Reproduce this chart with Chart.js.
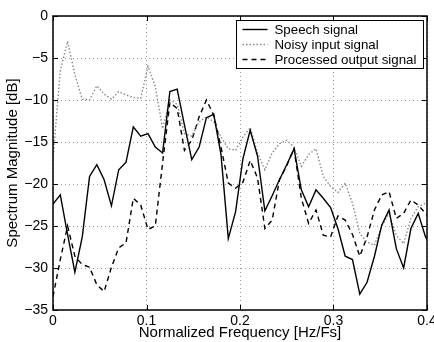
<!DOCTYPE html>
<html lang="en">
<head>
	<meta charset="UTF-8">
	<title>Spectrum</title>
	<script src="https://cdn.jsdelivr.net/npm/chart.js@4.4.0/dist/chart.umd.min.js"></script>
	<style>
		* { box-sizing: border-box; }
		html, body { margin: 0; padding: 0; background: #fff; overflow: hidden; }
		#box { width: 434px; height: 342px; }
	</style>
</head>
<body>
	<div id="box"><canvas id="chart"></canvas></div>

	<script>
		// normalized frequency of each spectrum bin (k/128)
		const freq = [0, 0.0078, 0.0156, 0.0234, 0.0313, 0.0391, 0.0469, 0.0547, 0.0625, 0.0703,
			0.0781, 0.0859, 0.0938, 0.1016, 0.1094, 0.1172, 0.125, 0.1328, 0.1406, 0.1484,
			0.1563, 0.1641, 0.1719, 0.1797, 0.1875, 0.1953, 0.2031, 0.2109, 0.2188, 0.2266,
			0.2344, 0.2422, 0.25, 0.2578, 0.2656, 0.2734, 0.2813, 0.2891, 0.2969, 0.3047,
			0.3125, 0.3203, 0.3281, 0.3359, 0.3438, 0.3516, 0.3594, 0.3672, 0.375, 0.3828,
			0.3906, 0.3984, 0.4063];

		const speech = [-22.4, -21.3, -26.0, -30.5, -26.3, -19.1, -17.7, -19.5, -22.6, -18.3,
			-17.4, -13.2, -14.3, -14.0, -15.6, -16.3, -9.0, -8.7, -13.0, -17.1,
			-15.6, -12.1, -11.7, -16.5, -26.5, -23.3, -17.0, -13.6, -16.7, -23.2,
			-21.4, -19.5, -17.7, -15.8, -20.7, -22.7, -20.7, -21.7, -22.8, -25.3,
			-28.6, -29.0, -33.1, -31.7, -28.6, -24.9, -23.1, -27.7, -30.0, -25.3,
			-23.5, -26.3, -27.5];

		const noisy = [-17.0, -6.5, -3.0, -7.0, -9.9, -10.0, -8.3, -9.3, -9.9, -9.0,
			-9.4, -9.7, -9.8, -6.0, -8.4, -13.4, -10.0, -10.5, -14.0, -14.3,
			-12.6, -12.0, -12.6, -14.4, -15.8, -16.0, -14.4, -13.3, -16.3, -18.3,
			-16.3, -15.2, -14.8, -15.6, -17.9, -16.5, -15.8, -19.1, -20.3, -21.0,
			-19.9, -22.3, -25.9, -26.9, -27.3, -25.0, -23.5, -26.1, -27.1, -24.1,
			-22.7, -22.3, -22.0];

		const processed = [-33.4, -29.0, -25.0, -28.6, -29.6, -29.9, -32.0, -32.8, -29.9, -27.6,
			-27.0, -21.7, -22.5, -25.4, -25.0, -17.5, -10.3, -11.0, -16.0, -14.8,
			-12.0, -10.0, -11.8, -15.6, -19.9, -20.5, -19.8, -17.2, -19.3, -25.3,
			-24.3, -19.5, -17.8, -15.8, -21.7, -24.7, -23.1, -26.1, -26.3, -23.8,
			-24.3, -26.0, -28.6, -26.3, -23.1, -21.3, -20.9, -24.1, -23.5, -21.9,
			-22.5, -23.5, -24.5];

		const seriesLabels = ["Speech signal", "Noisy input signal", "Processed output signal"];
		const xTicks = [0, 0.1, 0.2, 0.3, 0.4];
		const yTicks = [0, -5, -10, -15, -20, -25, -30, -35];

		Chart.defaults.font.family = "'Liberation Sans', Arial, sans-serif";
		Chart.defaults.font.size = 14;
		Chart.defaults.color = "#000";

		function toPoints(values) {
			return freq.map((x, i) => ({ x: x, y: values[i] }));
		}

		const styles = [
			{ color: "#000", width: 1.4, dash: [] },
			{ color: "#8a8a8a", width: 1.4, dash: [1.5, 2] },
			{ color: "#000", width: 1.4, dash: [5, 4] }
		];

		const datasets = [speech, noisy, processed].map((values, i) => ({
			label: seriesLabels[i],
			data: toPoints(values),
			borderColor: styles[i].color,
			borderWidth: styles[i].width,
			borderDash: styles[i].dash,
			pointRadius: 0,
			tension: 0,
			fill: false
		}));

		// matlab style frame, inward ticks and legend box
		const framePlugin = {
			id: "frame",
			afterDraw(chart) {
				const c = chart.ctx;
				const a = chart.chartArea;
				const xs = chart.scales.x;
				const ys = chart.scales.y;
				c.save();
				c.strokeStyle = "#000";
				c.lineWidth = 1;
				c.setLineDash([]);
				c.beginPath();
				xTicks.forEach(v => {
					const px = Math.round(xs.getPixelForValue(v)) + 0.5;
					c.moveTo(px, a.bottom); c.lineTo(px, a.bottom - 5);
					c.moveTo(px, a.top); c.lineTo(px, a.top + 5);
				});
				yTicks.forEach(v => {
					const py = Math.round(ys.getPixelForValue(v)) + 0.5;
					c.moveTo(a.left, py); c.lineTo(a.left + 5, py);
					c.moveTo(a.right, py); c.lineTo(a.right - 5, py);
				});
				c.stroke();
				c.lineWidth = 1.5;
				c.strokeRect(Math.round(a.left), Math.round(a.top), Math.round(a.right - a.left), Math.round(a.bottom - a.top));

				// legend
				const lx = 236.5, ly = 20.5, lw = 187, lh = 48;
				c.fillStyle = "#fff";
				c.fillRect(lx, ly, lw, lh);
				c.lineWidth = 1;
				c.strokeRect(lx, ly, lw, lh);
				c.font = "13.3px 'Liberation Sans', Arial, sans-serif";
				c.textBaseline = "middle";
				c.textAlign = "left";
				chart.data.datasets.forEach((ds, i) => {
					const y = ly + 9 + i * 15;
					c.strokeStyle = ds.borderColor;
					c.lineWidth = ds.borderWidth;
					c.setLineDash(ds.borderDash);
					c.beginPath();
					c.moveTo(lx + 6, y);
					c.lineTo(lx + 31, y);
					c.stroke();
					c.setLineDash([]);
					c.fillStyle = "#000";
					c.fillText(ds.label, lx + 38, y + 0.5);
				});
				c.restore();
			}
		};

		const config = {
			type: "line",
			data: { datasets },
			plugins: [framePlugin],
			options: {
				responsive: true,
				maintainAspectRatio: false,
				animation: false,
				layout: { padding: { top: 16, right: 7, left: 0, bottom: 0 } },
				plugins: {
					legend: { display: false },
					tooltip: { enabled: false }
				},
				scales: {
					x: {
						type: "linear",
						min: 0,
						max: 0.4,
						afterBuildTicks: s => { s.ticks = xTicks.map(v => ({ value: v })); },
						afterFit: s => { s.height = 32; s.paddingLeft = 0; s.paddingRight = 0; },
						ticks: {
							padding: 3,
							maxRotation: 0,
							callback: v => String(v)
						},
						grid: { color: "#999", lineWidth: 1, drawTicks: false },
						border: { display: false, dash: [1, 3] },
						title: {
							display: true,
							text: "Normalized Frequency [Hz/Fs]",
							padding: { top: 0, bottom: 0 },
							font: { size: 15 }
						}
					},
					y: {
						type: "linear",
						min: -35,
						max: 0,
						afterBuildTicks: s => { s.ticks = yTicks.map(v => ({ value: v })); },
						afterFit: s => { s.width = 53; s.paddingTop = 0; s.paddingBottom = 0; },
						ticks: {
							padding: 5,
							callback: v => (v < 0 ? "\u2212" + Math.abs(v) : String(v))
						},
						grid: { color: "#999", lineWidth: 1, drawTicks: false },
						border: { display: false, dash: [1, 3] },
						title: {
							display: true,
							text: "Spectrum Magnitude [dB]",
							padding: { top: 4, bottom: 0 },
							font: { size: 15 }
						}
					}
				}
			}
		};

		const chart = new Chart(document.getElementById("chart"), config);
	</script>
</body>
</html>
